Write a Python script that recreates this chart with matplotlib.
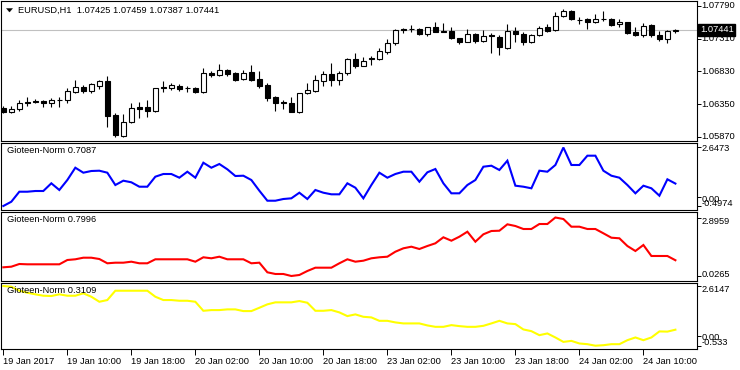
import matplotlib
matplotlib.use("Agg")
import matplotlib.pyplot as plt
from matplotlib.patches import Rectangle, Polygon
from matplotlib.transforms import blended_transform_factory

plt.rcParams['font.family'] = ['Liberation Sans', 'DejaVu Sans']
FS = 6.7

# ---------------- data ----------------
symbol = "EURUSD,H1"
last_ohlc = [1.07425, 1.07459, 1.07387, 1.07441]

opens = [1.06294, 1.06236, 1.06280, 1.06382, 1.06397, 1.06397, 1.06368, 1.06412, 1.06412, 1.06529,
         1.06602, 1.06544, 1.06617, 1.06690, 1.06192, 1.05884, 1.06089, 1.06309, 1.06309, 1.06250,
         1.06602, 1.06588, 1.06617, 1.06588, 1.06588, 1.06529, 1.06808, 1.06778, 1.06852, 1.06808,
         1.06720, 1.06822, 1.06720, 1.06632, 1.06456, 1.06382, 1.06368, 1.06236, 1.06514, 1.06544,
         1.06690, 1.06793, 1.06705, 1.06808, 1.07013, 1.06910, 1.07028, 1.07013, 1.07116, 1.07248,
         1.07455, 1.07453, 1.07453, 1.07380, 1.07482, 1.07416, 1.07424, 1.07321, 1.07262, 1.07380,
         1.07277, 1.07365, 1.07336, 1.07174, 1.07424, 1.07380, 1.07262, 1.07365, 1.07482, 1.07438,
         1.07643, 1.07717, 1.07585, 1.07599, 1.07555, 1.07599, 1.07599, 1.07526, 1.07555, 1.07409,
         1.07365, 1.07511, 1.07365, 1.07306, 1.07425]
highs = [1.06324, 1.06324, 1.06412, 1.06456, 1.06426, 1.06412, 1.06441, 1.06456, 1.06588, 1.06705,
         1.06632, 1.06661, 1.06705, 1.06764, 1.06221, 1.06206, 1.06368, 1.06382, 1.06412, 1.06588,
         1.06690, 1.06661, 1.06646, 1.06617, 1.06602, 1.06881, 1.06837, 1.06940, 1.06866, 1.06822,
         1.06852, 1.06925, 1.06837, 1.06661, 1.06470, 1.06412, 1.06456, 1.06514, 1.06661, 1.06778,
         1.06837, 1.06954, 1.06837, 1.07028, 1.07101, 1.07042, 1.07057, 1.07174, 1.07306, 1.07453,
         1.07467, 1.07511, 1.07467, 1.07482, 1.07555, 1.07541, 1.07482, 1.07325, 1.07453, 1.07394,
         1.07438, 1.07394, 1.07365, 1.07526, 1.07482, 1.07409, 1.07380, 1.07497, 1.07526, 1.07702,
         1.07746, 1.07731, 1.07629, 1.07614, 1.07673, 1.07717, 1.07614, 1.07599, 1.07560, 1.07482,
         1.07541, 1.07526, 1.07424, 1.07438, 1.07459]
lows = [1.06221, 1.06221, 1.06250, 1.06324, 1.06368, 1.06309, 1.06309, 1.06309, 1.06368, 1.06514,
        1.06514, 1.06514, 1.06573, 1.06016, 1.05870, 1.05870, 1.06074, 1.06148, 1.06162, 1.06236,
        1.06529, 1.06558, 1.06544, 1.06529, 1.06514, 1.06514, 1.06749, 1.06764, 1.06764, 1.06690,
        1.06705, 1.06690, 1.06588, 1.06397, 1.06250, 1.06280, 1.06236, 1.06221, 1.06500, 1.06529,
        1.06617, 1.06617, 1.06632, 1.06778, 1.06881, 1.06910, 1.06925, 1.06998, 1.07086, 1.07218,
        1.07394, 1.07409, 1.07365, 1.07350, 1.07409, 1.07405, 1.07306, 1.07233, 1.07262, 1.07248,
        1.07262, 1.07101, 1.07072, 1.07160, 1.07262, 1.07218, 1.07248, 1.07350, 1.07409, 1.07424,
        1.07629, 1.07585, 1.07526, 1.07453, 1.07541, 1.07570, 1.07497, 1.07482, 1.07380, 1.07350,
        1.07336, 1.07336, 1.07277, 1.07248, 1.07387]
closes = [1.06236, 1.06280, 1.06368, 1.06368, 1.06382, 1.06368, 1.06412, 1.06410, 1.06544, 1.06602,
          1.06544, 1.06646, 1.06690, 1.06177, 1.05899, 1.06089, 1.06294, 1.06280, 1.06250, 1.06588,
          1.06588, 1.06632, 1.06573, 1.06585, 1.06529, 1.06808, 1.06778, 1.06852, 1.06793, 1.06705,
          1.06808, 1.06705, 1.06617, 1.06441, 1.06368, 1.06368, 1.06236, 1.06514, 1.06558, 1.06705,
          1.06793, 1.06705, 1.06808, 1.07013, 1.06910, 1.06984, 1.07013, 1.07130, 1.07248, 1.07438,
          1.07445, 1.07448, 1.07380, 1.07482, 1.07409, 1.07409, 1.07321, 1.07262, 1.07380, 1.07277,
          1.07350, 1.07350, 1.07189, 1.07424, 1.07380, 1.07262, 1.07365, 1.07467, 1.07424, 1.07643,
          1.07717, 1.07599, 1.07580, 1.07555, 1.07599, 1.07595, 1.07511, 1.07555, 1.07394, 1.07365,
          1.07497, 1.07365, 1.07306, 1.07424, 1.07441]

norm_blue = [-0.4974, -0.267, 0.271, 0.271, 0.309, 0.309, 0.723, 0.363, 0.900, 1.561,
             1.293, 1.384, 1.400, 1.293, 0.631, 0.863, 0.777, 0.540, 0.540, 1.078,
             1.223, 1.223, 1.024, 1.346, 1.024, 1.830, 1.561, 1.760, 1.475, 1.115,
             1.131, 0.900, 0.325, -0.213, -0.213, -0.121, -0.084, 0.217, -0.121, 0.363,
             0.217, 0.131, 0.131, 0.723, 0.486, -0.084, 0.631, 1.293, 1.024, 1.223,
             1.346, 1.346, 0.809, 1.314, 1.491, 0.723, 0.185, 0.185, 0.631, 0.900,
             1.615, 1.669, 1.438, 1.938, 0.594, 0.540, 0.454, 1.400, 1.346, 1.707,
             2.6473, 1.707, 1.707, 2.207, 2.207, 1.400, 1.131, 1.024, 0.631, 0.185,
             0.594, 0.454, 0.056, 0.938, 0.7087]
norm_red = [0.453, 0.483, 0.615, 0.600, 0.600, 0.600, 0.600, 0.600, 0.811, 0.846,
            0.924, 0.924, 0.860, 0.650, 0.679, 0.679, 0.728, 0.650, 0.650, 0.846,
            0.846, 0.846, 0.846, 0.846, 0.728, 0.944, 0.895, 0.973, 0.846, 0.846,
            0.846, 0.650, 0.679, 0.208, 0.125, 0.125, 0.0265, 0.076, 0.272, 0.434,
            0.434, 0.434, 0.650, 0.846, 0.728, 0.777, 0.895, 0.944, 0.973, 1.218,
            1.385, 1.464, 1.351, 1.498, 1.630, 1.925, 1.758, 1.954, 2.199, 1.709,
            2.072, 2.234, 2.248, 2.562, 2.479, 2.332, 2.332, 2.577, 2.577, 2.8959,
            2.822, 2.445, 2.445, 2.332, 2.332, 2.121, 1.905, 1.876, 1.498, 1.253,
            1.547, 1.008, 1.008, 1.008, 0.7996]
norm_yellow = [2.6147, 2.578, 2.366, 2.260, 2.176, 2.102, 2.086, 2.176, 2.102, 2.102,
               2.229, 2.049, 1.784, 1.874, 2.366, 2.366, 2.366, 2.366, 2.366, 2.049,
               1.874, 1.874, 1.837, 1.837, 1.784, 1.308, 1.345, 1.345, 1.382, 1.382,
               1.292, 1.292, 1.467, 1.647, 1.753, 1.753, 1.753, 1.821, 1.732, 1.308,
               1.308, 1.345, 1.223, 1.028, 1.118, 0.991, 0.959, 0.779, 0.779, 0.695,
               0.642, 0.642, 0.642, 0.536, 0.462, 0.462, 0.552, 0.499, 0.462, 0.462,
               0.515, 0.642, 0.779, 0.642, 0.605, 0.324, 0.234, 0.023, 0.113, -0.099,
               -0.332, -0.279, -0.416, -0.453, -0.533, -0.507, -0.453, -0.453, -0.242, -0.099,
               -0.242, -0.099, 0.220, 0.210, 0.3109]

time_labels = ["19 Jan 2017", "19 Jan 10:00", "19 Jan 18:00", "20 Jan 02:00", "20 Jan 10:00",
               "20 Jan 18:00", "23 Jan 02:00", "23 Jan 10:00", "23 Jan 18:00", "24 Jan 02:00",
               "24 Jan 10:00"]
label_step = 8

price_ticks = [1.07790, 1.07310, 1.06830, 1.06350, 1.05870]
current_price = 1.07441
blue_ticks = [2.6473, 0.00, -0.4974]
blue_tick_text = ["2.6473", "0.00", "-0.4974"]
red_ticks = [2.8959, 0.0265]
red_tick_text = ["2.8959", "0.0265"]
yellow_ticks = [2.6147, 0.00, -0.533]
yellow_tick_text = ["2.6147", "0.00", "-0.533"]

# ---------------- layout ----------------
W, H = 740, 370
fig = plt.figure(figsize=(W / 100, H / 100), dpi=100)
fig.patch.set_facecolor("white")


def px_axes(top, bottom, left=1, right=697):
    return fig.add_axes([left / W, 1 - bottom / H, (right - left) / W, (bottom - top) / H])


ax_main = px_axes(1, 141)
ax_b = px_axes(143, 210)
ax_r = px_axes(212, 281)
ax_y = px_axes(283, 349)
axes = [ax_main, ax_b, ax_r, ax_y]

n = len(closes)
xs = list(range(n))
for ax in axes:
    ax.set_xlim(-0.29, 86.7)
    ax.set_facecolor("white")
    for sp in ax.spines.values():
        sp.set_color("black")
        sp.set_linewidth(0.8)
    ax.yaxis.tick_right()
    ax.tick_params(axis="y", which="both", direction="out", length=3, width=0.7,
                   color="black", labelright=False, labelleft=False)
    ax.tick_params(axis="x", which="both", bottom=False, labelbottom=False)

# ---- main candles ----
ax_main.set_ylim(1.05811, 1.07863)
ax_main.axhline(current_price, color="#c0c0c0", lw=0.8, zorder=1)
bw = 0.6
for i in xs:
    o, h, l, c = opens[i], highs[i], lows[i], closes[i]
    ax_main.vlines(i, l, h, color="black", lw=0.8, zorder=2)
    bull = c >= o
    ax_main.add_patch(Rectangle((i - bw / 2, min(o, c)), bw, abs(c - o),
                                facecolor="white" if bull else "black",
                                edgecolor="black", lw=0.8, zorder=3))
ax_main.set_yticks(price_ticks)


def right_labels(ax, values, texts, offsets_px):
    tr = blended_transform_factory(ax.transAxes, ax.transData)
    for v, t, dy in zip(values, texts, offsets_px):
        ax.annotate(t, xy=(1, v), xycoords=tr, xytext=(4.5 * 0.72, -dy * 0.72),
                    textcoords="offset points", ha="left", va="center",
                    fontsize=FS, color="black", annotation_clip=False)


right_labels(ax_main, price_ticks, ["%.5f" % p for p in price_ticks], [0, 0, 0, 0, 0])
ax_main.annotate("%.5f" % current_price, xy=(1, current_price),
                 xycoords=blended_transform_factory(ax_main.transAxes, ax_main.transData),
                 xytext=(2.2, 0), textcoords="offset points", ha="left", va="center",
                 fontsize=FS, color="white", annotation_clip=False,
                 bbox=dict(boxstyle="square,pad=0.18", fc="black", ec="black"))

# title
fig.text(18 / W, 1 - 10.5 / H,
         f"{symbol}  " + " ".join("%.5f" % v for v in last_ohlc),
         fontsize=FS, color="black", ha="left", va="center")
tri = Polygon([[6.5 / W, 1 - 8.5 / H], [12.5 / W, 1 - 8.5 / H], [9.5 / W, 1 - 12 / H]],
              closed=True, facecolor="black", edgecolor="black", lw=0.3,
              transform=fig.transFigure)
fig.patches.append(tri)

# ---- indicator panels ----
ax_b.set_ylim(-0.712, 2.889)
ax_b.plot(xs, norm_blue, color="#0000ff", lw=1.5, solid_joinstyle="miter")
ax_b.set_yticks(blue_ticks)
right_labels(ax_b, blue_ticks, blue_tick_text, [1.5, 2.8, -3])

ax_r.set_ylim(-0.219, 3.166)
ax_r.plot(xs, norm_red, color="#ff0000", lw=1.5, solid_joinstyle="miter")
ax_r.set_yticks(red_ticks)
right_labels(ax_r, red_ticks, red_tick_text, [3.5, -1.7])

ax_y.set_ylim(-0.707, 2.773)
ax_y.plot(xs, norm_yellow, color="#ffff00", lw=1.5, solid_joinstyle="miter")
ax_y.set_yticks(yellow_ticks)
right_labels(ax_y, yellow_ticks, yellow_tick_text, [3, 2, -3])

for ax, vals, top in [(ax_b, norm_blue, 143), (ax_r, norm_red, 212), (ax_y, norm_yellow, 283)]:
    fig.text(7 / W, 1 - (top + 7.5) / H, "Gioteen-Norm %.4f" % vals[-1],
             fontsize=FS, color="black", ha="left", va="center", zorder=10)

# ---- time axis ----
ax_y.set_xticks(list(range(0, n, label_step))[:len(time_labels)])
ax_y.set_xticklabels(time_labels)
ax_y.tick_params(axis="x", bottom=True, labelbottom=True, direction="out", length=4,
                 width=0.7, pad=2, labelsize=FS, color="black")
for lab in ax_y.get_xticklabels():
    lab.set_horizontalalignment("left")

fig.savefig("out.png", dpi=100, facecolor="white")
